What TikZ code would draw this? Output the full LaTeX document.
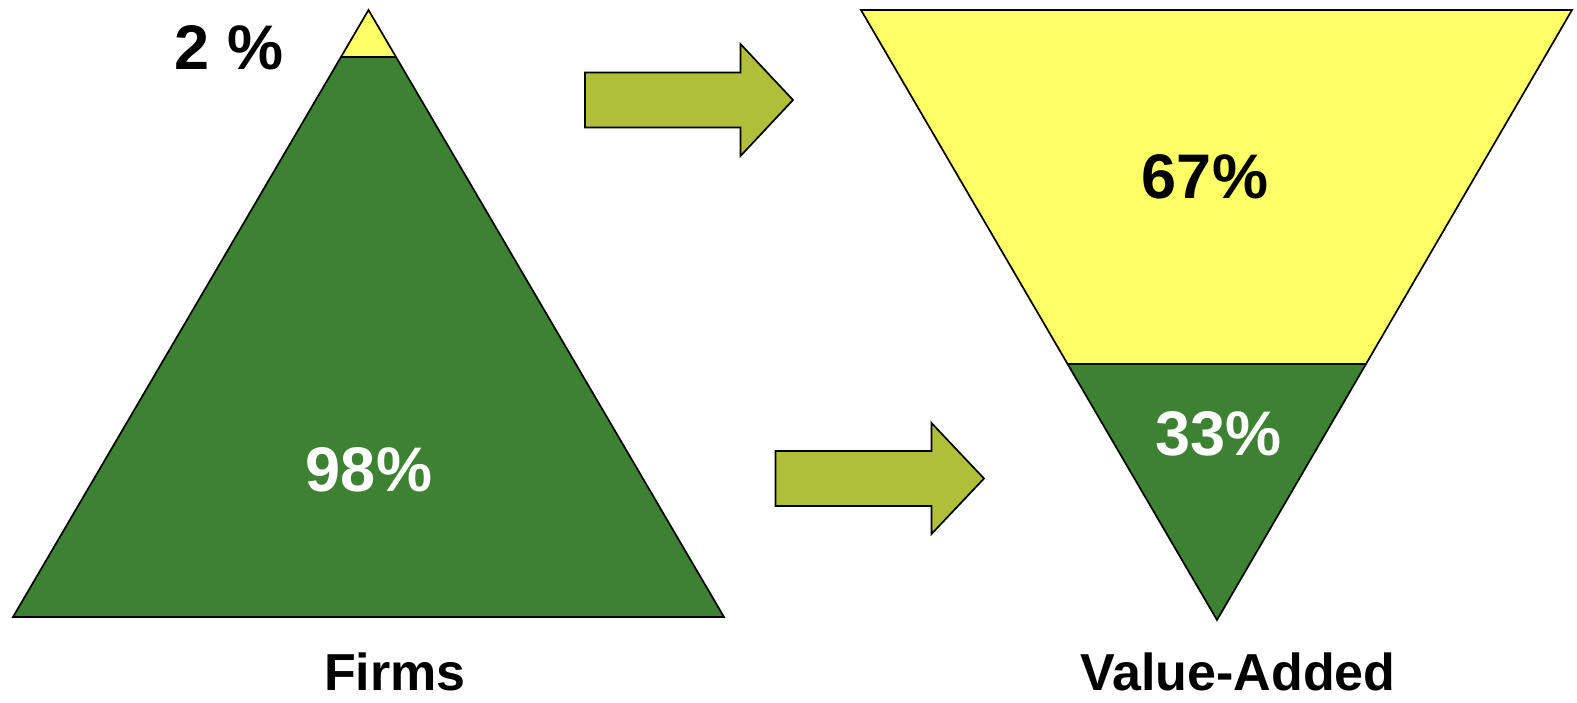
\documentclass[tikz,border=0pt]{standalone}
\usepackage{fontspec}
\setmainfont{Liberation Sans}
\usetikzlibrary{calc}
\definecolor{darkgreen}{RGB}{61,129,50}
\definecolor{lightyellow}{RGB}{255,255,102}
\definecolor{olive}{RGB}{176,191,58}
\tikzset{
  part/.style={draw=black, line width=1.7pt, line join=miter},
  blockarrow/.style={draw=black, line width=1.7pt, fill=olive, line join=miter},
  pct/.style={font=\fontsize{63}{63}\selectfont\bfseries, anchor=base, inner sep=0pt},
  caption/.style={font=\fontsize{52}{52}\selectfont\bfseries, anchor=base, inner sep=0pt}
}
\begin{document}
\begin{tikzpicture}[x=1pt,y=-1pt]
\useasboundingbox (0,0) rectangle (1577,702);
% left triangle
\coordinate (LA) at (368.5,10);
\coordinate (LL) at (13,617);
\coordinate (LR) at (724,617);
\coordinate (LcL) at ($(LA)!0.0774!(LL)$);
\coordinate (LcR) at ($(LA)!0.0774!(LR)$);
\fill[darkgreen] (LcL) -- (LcR) -- (LR) -- (LL) -- cycle;
\fill[lightyellow] (LA) -- (LcR) -- (LcL) -- cycle;
\draw[part] (LA) -- (LR) -- (LL) -- cycle;
\draw[part] (LcL) -- (LcR);
% right inverted triangle
\coordinate (RA) at (1217,620);
\coordinate (RL) at (861,10);
\coordinate (RR) at (1572,10);
\coordinate (RcL) at ($(RA)!0.4197!(RL)$);
\coordinate (RcR) at ($(RA)!0.4197!(RR)$);
\fill[lightyellow] (RL) -- (RR) -- (RcR) -- (RcL) -- cycle;
\fill[darkgreen] (RcL) -- (RcR) -- (RA) -- cycle;
\draw[part] (RL) -- (RR) -- (RA) -- cycle;
\draw[part] (RcL) -- (RcR);
% arrows
\draw[blockarrow] (585,72.5) -- (740.5,72.5) -- (740.5,44) -- (793,100) -- (740.5,156) -- (740.5,127.5) -- (585,127.5) -- cycle;
\draw[blockarrow] (775.5,451) -- (931.5,451) -- (931.5,423) -- (984,478.5) -- (931.5,534) -- (931.5,506) -- (775.5,506) -- cycle;
% texts
\node[pct] (two) at (229,69.3) {2 \%};
\node[pct, text=white] (ninetyeight) at (369,491.5) {98\%};
\node[pct] (sixtyseven) at (1205,198.3) {67\%};
\node[pct, text=white] (thirtythree) at (1218.5,455) {33\%};
\node[caption] (firms) at (395,690) {Firms};
\node[caption] (va) at (1238,690) {Value-Added};
\end{tikzpicture}
\end{document}
